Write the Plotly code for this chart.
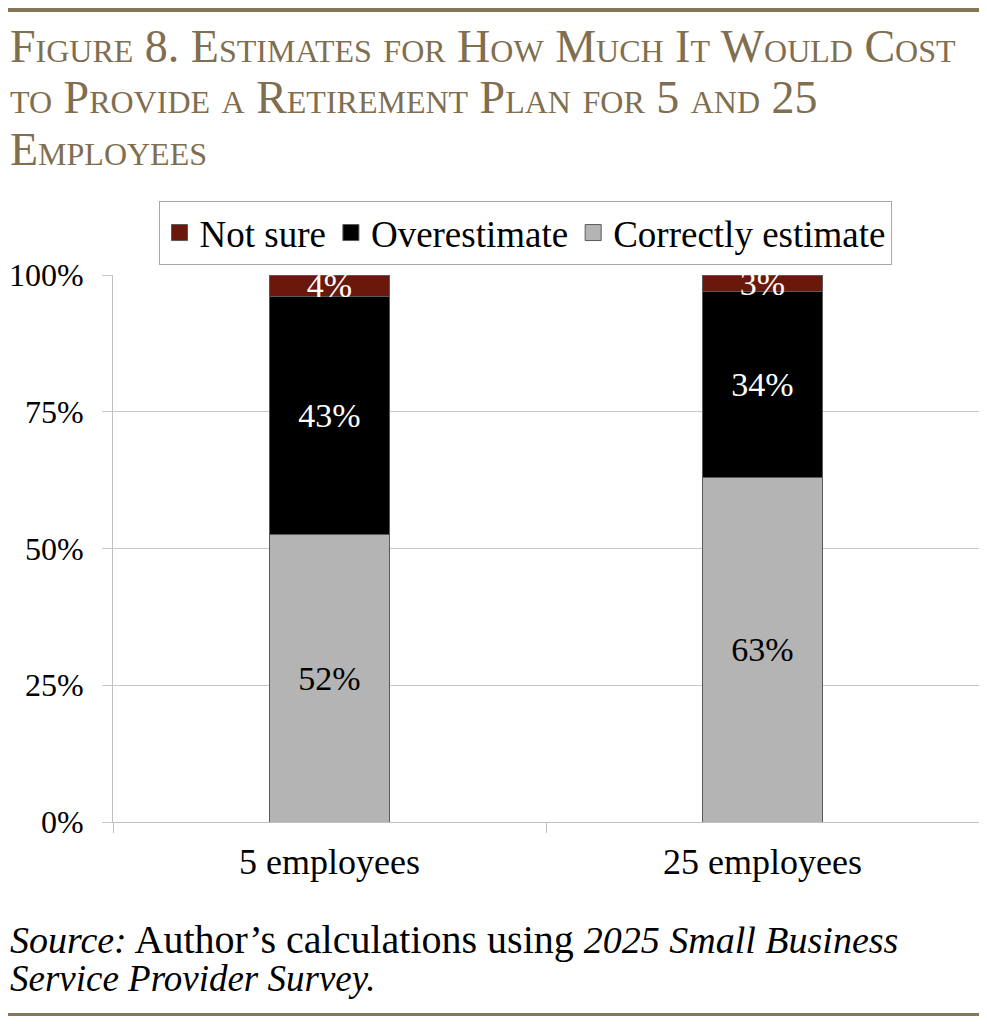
import plotly.graph_objects as go

categories = ["5 employees", "25 employees"]
correct = [52.5, 62.9]
overestimate = [43.5, 34.0]
not_sure = [4.0, 3.1]
correct_labels = ["52%", "63%"]
over_labels = ["43%", "34%"]
notsure_labels = ["4%", "3%"]
y_ticks = [0, 25, 50, 75, 100]
y_tick_labels = ["0%", "25%", "50%", "75%", "100%"]

FONT = "Liberation Serif"
RED = "#6A180C"
GRAY = "#B4B4B4"
TITLE_COLOR = "#7F6E4F"
RULE_COLOR = "#857658"

# the page body adds an 8px offset; figure sized so the page does not scroll
OFF = 8
W, H = 971, 1008
# plot area in page pixels: x 113..979, y 275..822
L = 113 - OFF
R = W - (979 - OFF)
T = 275 - OFF
B = H - (822 - OFF)
PW = W - L - R
PH = H - T - B


def px(x):
    return (x - OFF - L) / PW


def py(y):
    return (H - B - (y - OFF)) / PH


fig = go.Figure()

common = dict(
    x=categories,
    width=0.277,
    textposition="inside",
    insidetextanchor="middle",
    constraintext="none",
    textangle=0,
    showlegend=False,
    hoverinfo="skip",
)

fig.add_trace(go.Bar(y=correct, text=correct_labels, name="Correctly estimate",
                     marker=dict(color=GRAY, line=dict(color="#5a5a5a", width=1)),
                     textfont=dict(family=FONT, size=34, color="black"), **common))
fig.add_trace(go.Bar(y=overestimate, text=over_labels, name="Overestimate",
                     marker=dict(color="black", line=dict(color="#5a5a5a", width=1)),
                     textfont=dict(family=FONT, size=34, color="white"), **common))
fig.add_trace(go.Bar(y=not_sure, text=notsure_labels, name="Not sure",
                     marker=dict(color=RED, line=dict(color="#5a5a5a", width=1)),
                     textfont=dict(family=FONT, size=34, color="white"), **common))

# legend-only entries with square markers
for name, col in [("Not sure", RED), ("Overestimate", "black"), ("Correctly estimate", GRAY)]:
    fig.add_trace(go.Scatter(x=[None], y=[None], mode="markers", name=name,
                             marker=dict(symbol="square", size=20, color=col,
                                         line=dict(color="#5a5a5a", width=1))))

title_lines = [
    "Figure 8. Estimates for How Much It Would Cost",
    "to Provide a Retirement Plan for 5 and 25",
    "Employees",
]
title_centers = [46, 97, 149]
TITLE_SIZE = 46

annotations = []
for line, yc in zip(title_lines, title_centers):
    annotations.append(dict(
        xref="paper", yref="paper", x=px(8), y=py(yc), xanchor="left", yanchor="middle",
        align="left", showarrow=False, text=line,
        font=dict(family=FONT, size=TITLE_SIZE, color=TITLE_COLOR, variant="small-caps")))

SRC_SIZE = 38
annotations.append(dict(
    xref="paper", yref="paper", x=px(8), y=py(939), xanchor="left", yanchor="middle",
    align="left", showarrow=False,
    text=("<i>Source:</i><span style='font-size:40px'> Author’s calculations using </span>"
          "<i>2025 Small Business</i>"),
    font=dict(family=FONT, size=SRC_SIZE, color="black")))
annotations.append(dict(
    xref="paper", yref="paper", x=px(8), y=py(978), xanchor="left", yanchor="middle",
    align="left", showarrow=False,
    text="<i>Service Provider Survey.</i>",
    font=dict(family=FONT, size=37, color="black")))

fig.update_layout(
    width=W, height=H,
    margin=dict(l=L, r=R, t=T, b=B, autoexpand=False),
    paper_bgcolor="white", plot_bgcolor="white",
    barmode="stack",
    font=dict(family=FONT, size=34, color="black"),
    legend=dict(
        orientation="h",
        x=px(525), xanchor="center",
        y=py(233), yanchor="middle",
        bordercolor="#a8a8a8", borderwidth=1,
        font=dict(family=FONT, size=37, color="black"),
        traceorder="normal",
        itemwidth=30,
        tracegroupgap=0,
    ),
    xaxis=dict(
        type="category",
        range=[-0.5, 1.5],
        showline=True, linecolor="#c0c0c0", linewidth=1,
        ticks="outside", tickson="boundaries", ticklen=10, tickcolor="#c0c0c0",
        showgrid=False,
        tickfont=dict(family=FONT, size=36, color="black"),
        ticklabelstandoff=8,
    ),
    yaxis=dict(
        range=[0, 100],
        tickvals=y_ticks, ticktext=y_tick_labels,
        showline=True, linecolor="#c0c0c0", linewidth=1,
        ticks="outside", ticklen=10, tickcolor="#c8c8c8",
        showgrid=True, gridcolor="#c8c8c8", gridwidth=1,
        zeroline=False,
        tickfont=dict(family=FONT, size=32, color="black"),
        ticklabelstandoff=12,
    ),
    shapes=[
        dict(type="line", xref="paper", yref="paper", x0=px(8), x1=px(979), y0=py(10), y1=py(10),
             line=dict(color=RULE_COLOR, width=4)),
        dict(type="line", xref="paper", yref="paper", x0=px(8), x1=px(979), y0=py(1014.5), y1=py(1014.5),
             line=dict(color=RULE_COLOR, width=3)),
    ],
    annotations=annotations,
)

fig.write_html("out.html")
